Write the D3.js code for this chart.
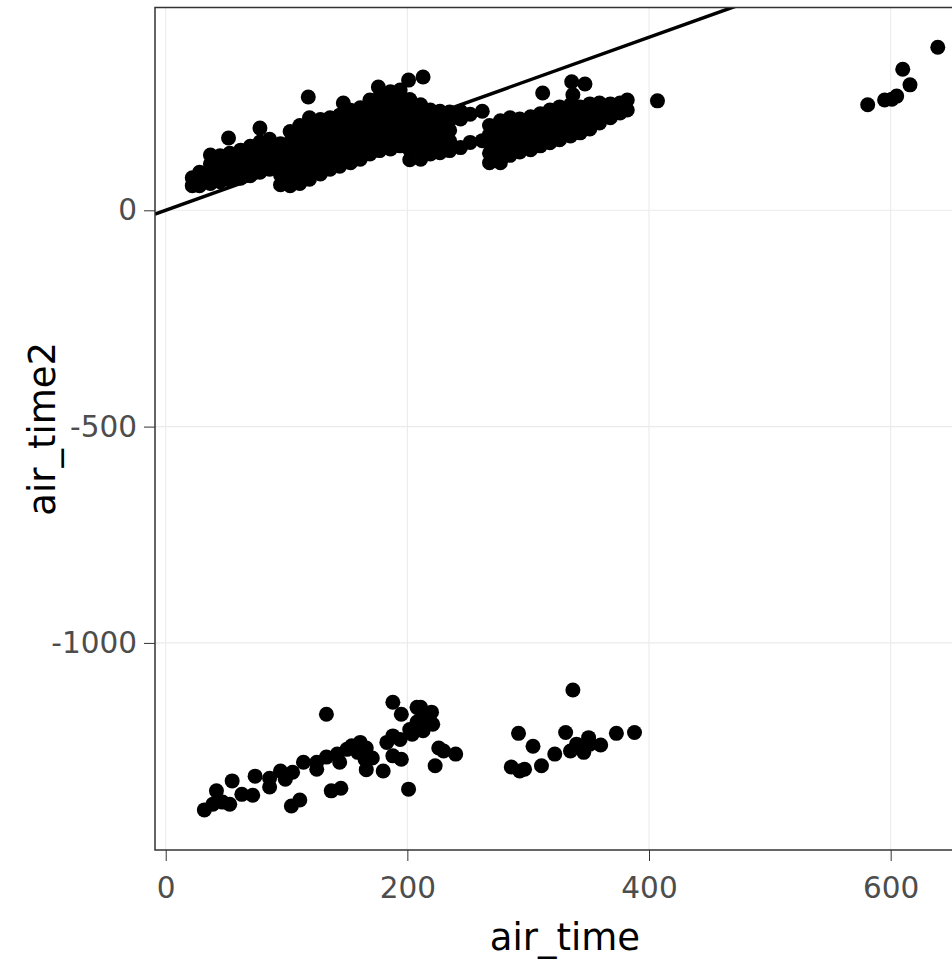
<!DOCTYPE html>
<html>
<head>
<meta charset="utf-8">
<script src="https://cdn.jsdelivr.net/npm/d3@7"></script>
<style>
  body { margin: 0; background: #fff; }
  svg { display: block; font-family: "DejaVu Sans", sans-serif; }
</style>
</head>
<body>
<div id="chart"></div>
<script>
// axis ticks
const xTicks = [0, 200, 400, 600];
const yTicks = [-1000, -500, 0];

// upper band, read column by column: [air_time, air_time2]
const upperBand = [
  [22,57],[22,75],
  [28,57],[28,72],[28,88],
  [37,62],[37,85],[37,107],[37,128],
  [45,66],[45,86],[45,106],[45,126],
  [53,70],[53,91],[53,112],[53,132],[52,167],
  [62,74],[62,96],[62,118],[62,139],
  [70,80],[70,103],[70,126],[70,148],
  [78,88],[78,111],[78,134],[78,158],[78,190],
  [86,95],[86,118],[86,141],[86,164],
  [95,59],[95,82],[95,106],[95,130],[95,154],
  [103,57],[103,82],[103,107],[103,132],[103,157],[103,182],
  [111,62],[111,84],[111,106],[111,129],[111,151],[111,174],[111,196],
  [119,72],[119,96],[119,120],[119,143],[119,167],[119,190],[119,214],[118,262],
  [128,84],[128,109],[128,134],[128,160],[128,185],[128,210],
  [136,95],[136,119],[136,143],[136,167],[136,191],[136,214],
  [144,102],[144,126],[144,150],[144,174],[144,197],[144,220],[147,248],
  [153,110],[153,134],[153,158],[153,183],[153,207],[153,231],
  [161,118],[161,142],[161,166],[161,190],[161,214],[161,237],
  [169,130],[169,155],[169,180],[169,205],[169,230],[169,255],
  [177,138],[177,163],[177,188],[177,213],[177,238],[177,262],[176,285],
  [186,142],[186,164],[186,186],[186,208],[186,230],[186,252],[186,274],
  [194,149],[194,171],[194,193],[194,215],[194,237],[194,259],[194,278],
  [202,117],[202,140],[202,163],[202,186],[202,209],[202,232],[202,256],[201,301],
  [211,118],[211,143],[211,168],[211,193],[211,218],[211,244],[213,308],
  [219,130],[219,155],[219,180],[219,206],[219,232],
  [227,133],[227,157],[227,181],[227,205],[227,229],
  [235,138],[235,160],[235,185],[235,209],[235,227],
  [244,145],[244,211],[244,229],
  [252,157],[252,222],
  [262,161],[262,229],
  [268,110],[268,132],[268,154],[268,175],[268,196],
  [277,110],[277,134],[277,158],[277,183],[277,207],
  [285,127],[285,149],[285,171],[285,192],[285,214],
  [293,135],[293,160],[293,185],[293,211],
  [302,140],[302,165],[302,190],[302,216],
  [310,149],[310,174],[310,199],[310,223],[312,271],
  [318,156],[318,181],[318,206],[318,232],
  [326,163],[326,188],[326,213],[326,239],
  [335,172],[335,196],[335,220],[335,244],[336,297],[347,292],[337,267],
  [343,179],[343,199],[343,219],[343,239],
  [351,188],[351,207],[351,226],[351,246],
  [359,202],[359,225],[359,248],
  [368,214],[368,230],[368,246],
  [376,225],[376,248],
  [382,232],[382,255],
  [407,253]
];

// long flights at the right
const farRight = [
  [581,244],[595,255],[601,257],[605,264],[616,290],[610,326],[639,377]
];

// lower cluster (negative air_time2)
const lowerCluster = [
  [32,-1386],[39,-1373],[42,-1342],[47,-1368],[53,-1373],[55,-1319],[63,-1350],
  [72,-1352],[74,-1308],[86,-1313],[86,-1333],[95,-1296],[99,-1315],[105,-1299],
  [104,-1377],[111,-1363],[114,-1276],[125,-1276],[125,-1292],[133,-1165],
  [133,-1264],[142,-1257],[144,-1276],[137,-1342],[145,-1336],[150,-1246],
  [154,-1238],[161,-1230],[159,-1253],[166,-1243],[165,-1269],[171,-1266],
  [166,-1293],[180,-1296],[183,-1230],[188,-1137],[188,-1215],[194,-1223],
  [195,-1165],[188,-1261],[195,-1269],[201,-1338],[202,-1200],[208,-1183],
  [208,-1149],[211,-1149],[220,-1160],[211,-1177],[221,-1188],[213,-1203],
  [204,-1211],[226,-1243],[230,-1250],[240,-1257],[223,-1284],
  [292,-1209],[304,-1239],[286,-1287],[293,-1296],[297,-1292],[311,-1284],
  [322,-1257],[331,-1207],[337,-1109],[335,-1250],[340,-1234],[346,-1253],
  [350,-1219],[351,-1234],[360,-1236],[373,-1209],[388,-1207]
];

// reference line y = x
const ablineIntercept = 0;
const ablineSlope = 1;

const W = 952, H = 961;
const panel = { left: 155, top: 7.5, right: 975, bottom: 850 };

const x = d3.scaleLinear().domain([-8.86, 669.8]).range([panel.left, panel.right]);
const y = d3.scaleLinear().domain([-1478.7, 468.8]).range([panel.bottom, panel.top]);

const svg = d3.select('#chart').append('svg')
  .attr('width', W)
  .attr('height', H);

svg.append('clipPath').attr('id', 'clip')
  .append('rect')
  .attr('x', panel.left).attr('y', panel.top)
  .attr('width', panel.right - panel.left)
  .attr('height', panel.bottom - panel.top);

// grid
const grid = svg.append('g').attr('clip-path', 'url(#clip)');
grid.selectAll('line.vx').data(xTicks).enter().append('line')
  .attr('x1', d => x(d)).attr('x2', d => x(d))
  .attr('y1', panel.top).attr('y2', panel.bottom)
  .attr('stroke', '#ebebeb').attr('stroke-width', 1.1);
grid.selectAll('line.hy').data(yTicks).enter().append('line')
  .attr('y1', d => y(d)).attr('y2', d => y(d))
  .attr('x1', panel.left).attr('x2', panel.right)
  .attr('stroke', '#ebebeb').attr('stroke-width', 1.1);

// points
const pts = svg.append('g').attr('clip-path', 'url(#clip)');
const allPoints = upperBand.concat(farRight, lowerCluster);
pts.selectAll('circle').data(allPoints).enter().append('circle')
  .attr('cx', d => x(d[0]))
  .attr('cy', d => y(d[1]))
  .attr('r', 7.5)
  .attr('fill', '#000');

// abline
const xd = x.domain();
pts.append('line')
  .attr('x1', x(xd[0])).attr('y1', y(ablineIntercept + ablineSlope * xd[0]))
  .attr('x2', x(xd[1])).attr('y2', y(ablineIntercept + ablineSlope * xd[1]))
  .attr('stroke', '#000').attr('stroke-width', 3.5);

// panel border
svg.append('rect')
  .attr('x', panel.left).attr('y', panel.top)
  .attr('width', panel.right - panel.left)
  .attr('height', panel.bottom - panel.top)
  .attr('fill', 'none').attr('stroke', '#333').attr('stroke-width', 1.5);

// axes
const xAxis = svg.append('g')
  .attr('transform', `translate(0,${panel.bottom})`)
  .call(d3.axisBottom(x).tickValues(xTicks).tickSize(11).tickPadding(10).tickFormat(d3.format('d')));
const yAxis = svg.append('g')
  .attr('transform', `translate(${panel.left},0)`)
  .call(d3.axisLeft(y).tickValues(yTicks).tickSize(11).tickPadding(7).tickFormat(d => d < 0 ? '-' + Math.abs(d) : d));

[xAxis, yAxis].forEach(a => {
  a.select('.domain').remove();
  a.selectAll('.tick line').attr('stroke', '#333').attr('stroke-width', 1);
  a.selectAll('.tick text')
    .attr('fill', '#4d4d4d')
    .style('font-family', '"DejaVu Sans", sans-serif')
    .style('font-size', '29.5px');
});
xAxis.selectAll('.tick text').attr('dy', null).attr('y', 48);

// axis titles
svg.append('text')
  .attr('x', (panel.left + panel.right) / 2)
  .attr('y', 950)
  .attr('text-anchor', 'middle')
  .style('font-size', '37px')
  .attr('fill', '#000')
  .text('air_time');

svg.append('text')
  .attr('transform', `translate(55,${(panel.top + panel.bottom) / 2}) rotate(-90)`)
  .attr('text-anchor', 'middle')
  .style('font-size', '37px')
  .attr('fill', '#000')
  .text('air_time2');
</script>
</body>
</html>
